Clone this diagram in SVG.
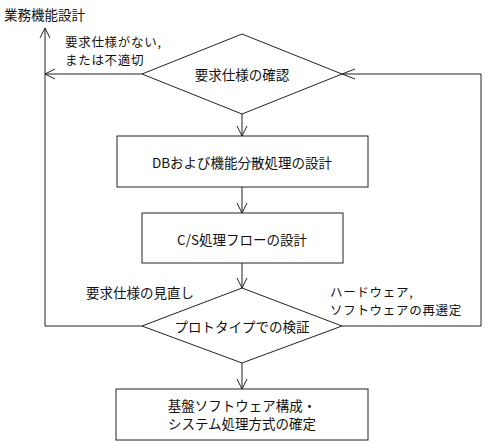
<svg xmlns="http://www.w3.org/2000/svg" width="485" height="443" viewBox="0 0 485 443">
<style>
.s{fill:none;stroke:#222;stroke-width:1}
.b{fill:#fff;stroke:#222;stroke-width:1}
text{font-family:"Noto Sans CJK JP","Noto Sans CJK SC",sans-serif;font-size:13.5px;fill:#111;dominant-baseline:central}
.c{text-anchor:middle}
.l{font-size:12.5px;letter-spacing:0.7px}
</style>
<defs>
<marker id="a" markerWidth="12" markerHeight="12" refX="11" refY="6" orient="auto" markerUnits="userSpaceOnUse">
<path d="M1,1 L11,6 L1,11" fill="none" stroke="#222" stroke-width="1"/>
</marker>
</defs>
<text x="4" y="14">業務機能設計</text>
<g id="connectors">
<path class="s" d="M242,114 V136" marker-end="url(#a)"/>
<path class="s" d="M242,187 V213" marker-end="url(#a)"/>
<path class="s" d="M242,263 V288" marker-end="url(#a)"/>
<path class="s" d="M242,363 V389" marker-end="url(#a)"/>
<path class="s" d="M142,74 H45" marker-end="url(#a)"/>
<path class="s" d="M142,326 H45 V28" marker-end="url(#a)"/>
<path class="s" d="M342,326 H481 V74 H342"/>
<path class="s" d="M342,74 L355,79 M342,74 L355,69"/>
</g>
<g id="n1">
<polygon class="b" points="242,34 342,74 242,114 142,74"/>
<text class="c" x="242" y="74">要求仕様の確認</text>
</g>
<g id="n2">
<rect class="b" x="117" y="136" width="251" height="51"/>
<text class="c" x="242" y="162">DBおよび機能分散処理の設計</text>
</g>
<g id="n3">
<rect class="b" x="142" y="213" width="201" height="50"/>
<text class="c" x="242" y="239">C/S処理フローの設計</text>
</g>
<g id="n4">
<polygon class="b" points="242,288 342,326 242,363 142,326"/>
<text class="c" x="242" y="326">プロトタイプでの検証</text>
</g>
<g id="n5">
<rect class="b" x="116" y="389" width="252" height="51"/>
<text class="c" x="242" y="405">基盤ソフトウェア構成・<tspan x="242" dy="18">システム処理方式の確定</tspan></text>
</g>
<g id="labels">
<text class="l" x="65" y="41">要求仕様がない,<tspan x="65" dy="18">または不適切</tspan></text>
<text x="86" y="292">要求仕様の見直し</text>
<text class="l" x="330" y="291">ハードウェア,<tspan x="330" dy="18">ソフトウェアの再選定</tspan></text>
</g>
</svg>
